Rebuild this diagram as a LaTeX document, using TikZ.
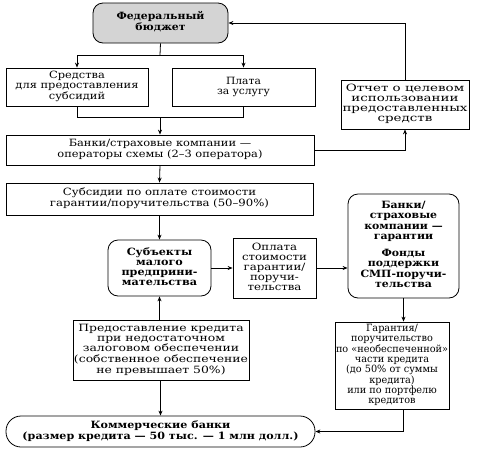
\documentclass[tikz,border=0pt]{standalone}
\usepackage{graphicx}
\usepackage{fontspec}
\setmainfont{DejaVu Serif}
\usetikzlibrary{arrows.meta}
\newcommand\fitw[3]{\resizebox{#1}{\height}{\fontsize{10}{#2}\selectfont\begin{tabular}{@{}c@{}}#3\end{tabular}}}
\newcommand\fitb[3]{\resizebox{#1}{\height}{\fontsize{10}{#2}\selectfont\bfseries\begin{tabular}{@{}c@{}}#3\end{tabular}}}
\begin{document}
\begin{tikzpicture}[x=1pt,y=-1pt,
  box/.style={draw,line width=0.8pt,align=center,inner sep=0pt},
  rbox/.style={box,rounded corners=10pt},
  conn/.style={line width=0.8pt,-{Stealth[length=5pt,width=4pt]}},
  plain/.style={line width=0.8pt}]
\useasboundingbox (0,0) rectangle (477,451);
\node[rbox,fill=black!17,minimum width=135pt,minimum height=40pt] (fed) at (160.5,23) {\fitb{88pt}{11pt}{Федеральный\\бюджет}};
\node[box,minimum width=142pt,minimum height=38pt] (sred) at (77,87) {\fitw{123pt}{10pt}{Средства\\для предоставления\\субсидий}};
\node[box,minimum width=143pt,minimum height=38pt] (plata) at (243.5,87) {\fitw{53pt}{10pt}{Плата\\за услугу}};
\node[box,minimum width=128pt,minimum height=49pt] (report) at (405,104.5) {\fitw{125pt}{10pt}{Отчет о целевом\\использовании\\предоставленных\\средств}};
\node[box,minimum width=308pt,minimum height=30pt] (ops) at (160,150) {\fitw{205pt}{11pt}{Банки/страховые компании —\\операторы схемы (2–3 оператора)}};
\node[box,minimum width=307pt,minimum height=32pt] (subs) at (159.5,199) {\fitw{219pt}{10.5pt}{Субсидии по оплате стоимости\\гарантии/поручительства (50–90\%)}};
\node[rbox,minimum width=103pt,minimum height=56pt] (smp) at (159.5,268) {\fitb{76pt}{10pt}{Субъекты\\малого\\предприни-\\мательства}};
\node[box,minimum width=83pt,minimum height=60pt] (pay) at (274.5,268) {\fitw{65pt}{10pt}{Оплата\\стоимости\\гарантии/\\поручи-\\тельства}};
\node[rbox,minimum width=111pt,minimum height=104pt] (banks) at (403.5,246) {\fitb{86pt}{10.5pt}{Банки/\\страховые\\компании —\\гарантии\\[6pt]Фонды\\поддержки\\СМП-поручи-\\тельства}};
\node[box,minimum width=176pt,minimum height=60pt] (cred) at (161,350) {\fitw{174pt}{10pt}{Предоставление кредита\\при недостаточном\\залоговом обеспечении\\(собственное обеспечение\\не превышает 50\%)}};
\node[box,minimum width=114pt,minimum height=87pt] (guar) at (392,365.5) {\fitw{112pt}{9.8pt}{Гарантия/\\поручительство\\по «необеспеченной»\\части кредита\\(до 50\% от суммы\\кредита)\\или по портфелю\\кредитов}};
\node[rbox,rounded corners=15pt,minimum width=309pt,minimum height=31pt] (comm) at (160.5,431.5) {\fitb{276pt}{11pt}{Коммерческие банки\\(размер кредита — 50 тыс. — 1 млн долл.)}};
\coordinate (split) at (160,55);
\coordinate (merge) at (160,117);
\draw[plain] (fed.south) -- (split);
\draw[conn] (split) -| (sred.north);
\draw[conn] (split) -| (plata.north);
\draw[plain] (sred.south) |- (merge);
\draw[plain] (plata.south) |- (merge);
\draw[conn] (merge) -- (ops.north);
\draw[conn] (ops.east) -| (report.south);
\draw[conn] (report.north) |- (fed.east);
\draw[conn] (ops.south) -- (subs.north);
\draw[conn] (subs.south) -- (smp.north);
\draw[conn] (smp.east) -- (pay.west);
\draw[conn] (pay.east) -- (pay.east -| banks.west);
\draw[conn] (banks.south) -- (guar.north -| banks.south);
\draw[conn] (guar.south -| banks.south) |- (comm.east);
\draw[conn] (cred.north -| smp.south) -- (smp.south);
\draw[conn] (cred.south -| comm.north) -- (comm.north);
\end{tikzpicture}
\end{document}
